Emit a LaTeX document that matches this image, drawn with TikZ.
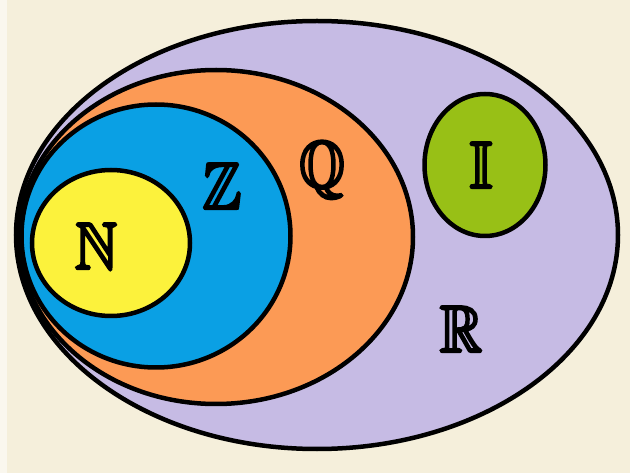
\documentclass[tikz,border=0pt]{standalone}
\usepackage{amssymb}
\usetikzlibrary{shapes.geometric}
\definecolor{bgcream}{HTML}{F5EFDB}
\definecolor{bgstrip}{HTML}{FAF7EE}
\definecolor{setR}{HTML}{C6BBE4}
\definecolor{setQ}{HTML}{FC9A55}
\definecolor{setZ}{HTML}{0AA0E4}
\definecolor{setN}{HTML}{FCF23C}
\definecolor{setI}{HTML}{98C016}
\newcommand{\heavybb}[1]{\special{pdf:literal direct 2 Tr 2.8 w 0 J 0 j}$\mathbb{#1}$\special{pdf:literal direct 0 Tr 1 w}}
\tikzset{
  setshape/.style={ellipse, draw=black, line width=4.5pt, inner sep=0pt},
  setlabel/.style={inner sep=0pt, xscale=0.88, font=\fontsize{66}{68}\selectfont}
}
\begin{document}
\begin{tikzpicture}[x=1pt,y=-1pt]
\useasboundingbox (0,0) rectangle (630,473);
\fill[bgcream] (0,0) rectangle (630,473);
\fill[bgstrip] (0,0) rectangle (7,473);
\node[setshape, fill=setR, minimum width=602pt, minimum height=428pt] (R) at (317,235) {};
\node[setshape, fill=setQ, minimum width=394pt, minimum height=334pt] (Q) at (216,237) {};
\node[setshape, fill=setZ, minimum width=269pt, minimum height=263pt] (Z) at (156,236) {};
\node[setshape, fill=setN, minimum width=158pt, minimum height=146pt] (N) at (111,243) {};
\node[setshape, fill=setI, minimum width=121pt, minimum height=142pt] (I) at (485,165) {};
\node[setlabel] (lN) at (96,246) {\heavybb{N}};
\node[setlabel] (lZ) at (222,186) {\heavybb{Z}};
\node[setlabel] (lQ) at (322,170) {\heavybb{Q}};
\node[setlabel] (lI) at (481,165) {\heavybb{I}};
\node[setlabel] (lR) at (461,329) {\heavybb{R}};
\end{tikzpicture}
\end{document}
